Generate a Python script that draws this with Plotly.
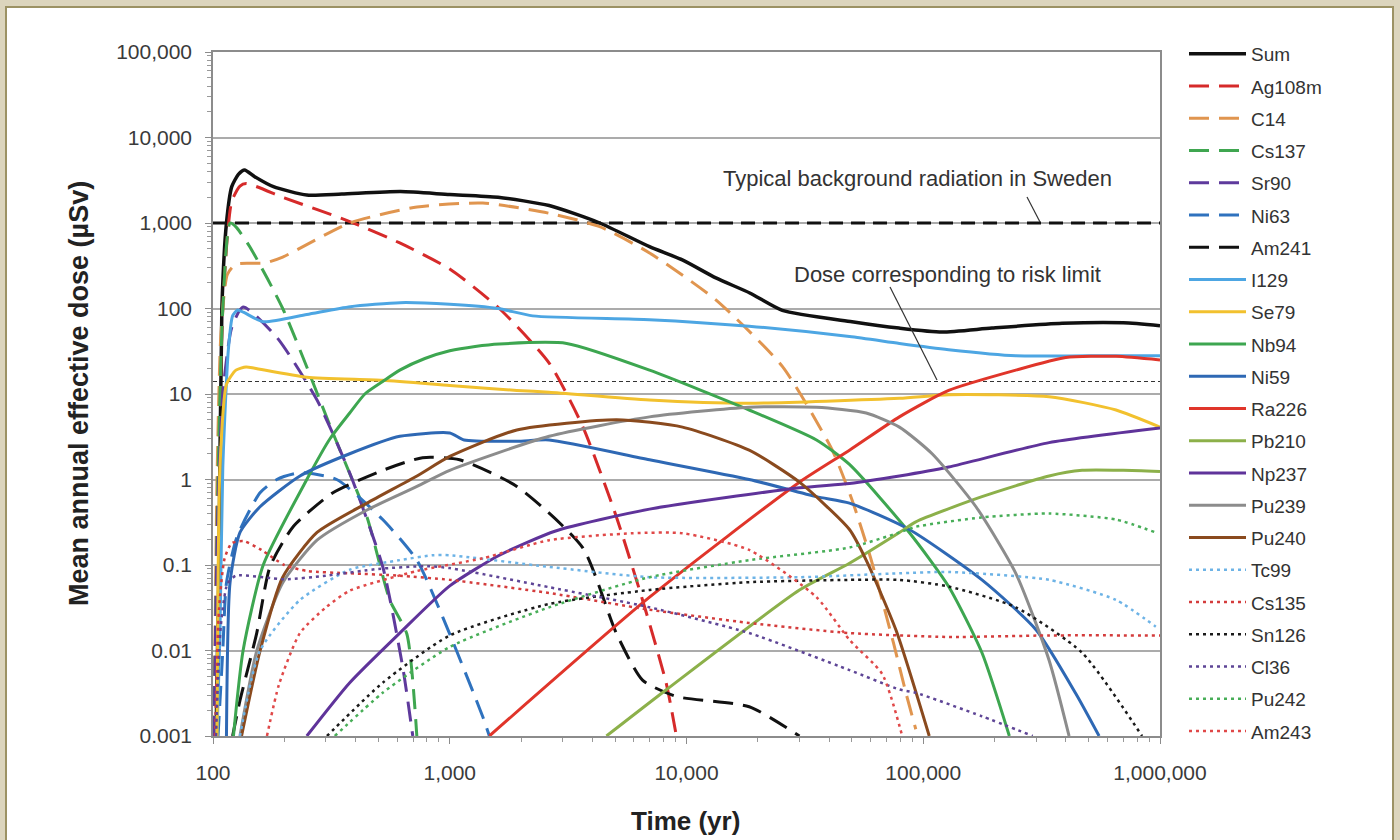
import plotly.graph_objects as go

# ---------------- data ----------------
sum_t = [103, 106, 109, 114, 120, 128, 136, 150, 180, 249, 350, 620, 1000, 1600, 2630, 4300, 6980, 9600, 13300, 18500, 25400, 50000, 79000, 120000, 195000, 386000, 700000, 1000000]
sum_v = [0.001, 0.1, 100, 1000, 2660, 3700, 4170, 3480, 2660, 2120, 2180, 2330, 2150, 2000, 1600, 1000, 528, 370, 228, 152, 95, 70, 59, 53, 59, 67, 68, 63]

ag108m_t = [101, 105, 110, 115, 120, 130, 138, 200, 378, 615, 1000, 1620, 2630, 3640, 5050, 6520, 8200, 9060]
ag108m_v = [0.001, 1, 100, 700, 1800, 2700, 2900, 1970, 1040, 584, 290, 100, 23, 4.2, 0.37, 0.039, 0.0042, 0.001]

c14_t = [101, 104, 108, 115, 125, 165, 197, 378, 727, 1380, 2630, 4300, 6980, 13300, 25400, 41300, 50000, 60000, 75000, 85000, 93000]
c14_v = [0.001, 1, 50, 250, 330, 340, 400, 1000, 1540, 1710, 1300, 906, 446, 126, 21, 2.2, 0.58, 0.12, 0.012, 0.003, 0.0012]

cs137_t = [101, 105, 110, 118, 125, 143, 197, 321, 447, 558, 659, 726]
cs137_v = [0.001, 1, 100, 1000, 900, 528, 100, 3.5, 0.364, 0.039, 0.0156, 0.001]

sr90_t = [101, 105, 110, 120, 134, 186, 275, 378, 521, 633, 698]
sr90_v = [0.001, 0.5, 10, 60, 104, 46, 8.5, 1.19, 0.096, 0.0064, 0.001]

ni63_t = [105, 110, 114, 126, 158, 186, 233, 333, 521, 726, 934, 1380, 1470]
ni63_v = [0.001, 0.01, 0.062, 0.21, 0.7, 1.0, 1.2, 1.0, 0.34, 0.114, 0.0246, 0.00167, 0.001]

am241_t = [121, 130, 153, 174, 218, 321, 521, 767, 1100, 1920, 3640, 5050, 6520, 9060, 18400, 30000]
am241_v = [0.001, 0.0026, 0.016, 0.095, 0.28, 0.7, 1.28, 1.8, 1.7, 0.83, 0.16, 0.016, 0.0045, 0.0029, 0.0022, 0.001]

i129_t = [104, 107, 110, 116, 121, 127, 135, 163, 249, 380, 617, 1000, 1600, 2240, 6980, 18400, 48800, 79300, 128000, 246000, 500000, 1000000]
i129_v = [0.001, 0.016, 1.4, 32, 82, 96, 90, 70, 85, 105, 117, 112, 100, 82, 74, 62, 47, 39, 33, 28, 28, 28]

se79_t = [104, 107, 114, 125, 138, 150, 249, 521, 1000, 1920, 2630, 6980, 18400, 79300, 128000, 340000, 652000, 1000000]
se79_v = [0.001, 1.4, 13, 19, 20.7, 20, 15.7, 14.5, 12.6, 11, 10.5, 8.5, 7.8, 8.9, 9.8, 9.3, 6.5, 4.1]

nb94_t = [122, 134, 163, 249, 312, 378, 438, 521, 615, 785, 1000, 1280, 1620, 3120, 6980, 18400, 35400, 48800, 87300, 128000, 177000, 231000]
nb94_v = [0.001, 0.01, 0.1, 1, 3, 6, 10, 14, 19, 26, 32, 36, 38.5, 39, 19, 6.5, 2.9, 1.5, 0.24, 0.056, 0.0094, 0.001]

ni59_t = [114, 118, 130, 158, 233, 378, 615, 1000, 1150, 1920, 2630, 6980, 18400, 35400, 48800, 87300, 177000, 300000, 442000, 553000]
ni59_v = [0.001, 0.062, 0.24, 0.48, 1.1, 2.0, 3.2, 3.5, 2.9, 2.8, 2.9, 1.7, 1.0, 0.63, 0.53, 0.26, 0.067, 0.0174, 0.0031, 0.001]

ra226_t = [1470, 6980, 30000, 48800, 79300, 128000, 246000, 400000, 652000, 1000000]
ra226_v = [0.001, 0.042, 0.93, 2.2, 5.4, 11, 19, 26.7, 27.6, 25]

pb210_t = [4590, 8240, 30000, 48800, 79300, 93000, 177000, 340000, 469000, 700000, 1000000]
pb210_v = [0.001, 0.0035, 0.051, 0.105, 0.24, 0.32, 0.63, 1.1, 1.28, 1.28, 1.24]

np237_t = [249, 378, 615, 1000, 1620, 2800, 6980, 30000, 48800, 79300, 128000, 340000, 1000000]
np237_v = [0.001, 0.0042, 0.016, 0.057, 0.13, 0.25, 0.45, 0.8, 0.9, 1.1, 1.4, 2.7, 4.0]

pu239_t = [130, 153, 197, 275, 447, 727, 1000, 2630, 6980, 18400, 35400, 57400, 79300, 109000, 167000, 246000, 340000, 413000]
pu239_v = [0.001, 0.0099, 0.062, 0.195, 0.44, 0.83, 1.28, 3.2, 5.4, 7.0, 7.0, 6.0, 4.1, 2.0, 0.48, 0.08, 0.0077, 0.001]

pu240_t = [132, 158, 197, 275, 447, 727, 1000, 1920, 5070, 9620, 18400, 30000, 48800, 57400, 76900, 106000]
pu240_v = [0.001, 0.0099, 0.072, 0.24, 0.53, 1.1, 1.86, 3.8, 5.0, 4.1, 2.2, 0.93, 0.26, 0.114, 0.017, 0.001]

tc99_t = [130, 158, 233, 378, 615, 847, 1000, 2630, 6980, 30000, 79300, 128000, 340000, 652000, 960000]
tc99_v = [0.001, 0.01, 0.039, 0.088, 0.114, 0.13, 0.13, 0.095, 0.072, 0.072, 0.08, 0.083, 0.067, 0.039, 0.019]

cs135_t = [102, 106, 112, 120, 135, 160, 200, 250, 378, 615, 1000, 2630, 6980, 18400, 48800, 128000, 340000, 1000000]
cs135_v = [0.001, 0.03, 0.12, 0.18, 0.19, 0.15, 0.1, 0.085, 0.08, 0.075, 0.067, 0.047, 0.03, 0.021, 0.016, 0.0144, 0.015, 0.015]

sn126_t = [303, 521, 1000, 2630, 6980, 18400, 48800, 79300, 128000, 246000, 469000, 840000]
sn126_v = [0.001, 0.0042, 0.015, 0.035, 0.051, 0.063, 0.067, 0.067, 0.056, 0.032, 0.0094, 0.001]

cl36_t = [103, 108, 115, 125, 200, 300, 500, 800, 1000, 2630, 6980, 18400, 48800, 79300, 93000, 177000, 290000]
cl36_v = [0.001, 0.02, 0.06, 0.075, 0.068, 0.075, 0.09, 0.097, 0.092, 0.055, 0.032, 0.016, 0.0059, 0.0035, 0.0032, 0.0017, 0.001]

pu242_t = [327, 521, 1000, 2630, 6980, 18400, 48800, 79300, 93000, 177000, 340000, 652000, 960000]
pu242_v = [0.001, 0.0032, 0.011, 0.032, 0.072, 0.114, 0.16, 0.24, 0.28, 0.36, 0.40, 0.34, 0.24]

am243_t = [169, 190, 233, 300, 378, 727, 1380, 2630, 5920, 9620, 18400, 35400, 48800, 67100, 81500]
am243_v = [0.001, 0.004, 0.016, 0.032, 0.05, 0.085, 0.12, 0.195, 0.235, 0.235, 0.15, 0.042, 0.0133, 0.0053, 0.001]

ref_t = [100, 1000000]
background_v = [1000, 1000]
risk_v = [14, 14]

y_tickvals = [0.001, 0.01, 0.1, 1, 10, 100, 1000, 10000, 100000]
y_ticktext = ["0.001", "0.01", "0.1", "1", "10", "100", "1,000", "10,000", "100,000"]
x_tickvals = [100, 1000, 10000, 100000, 1000000]
x_ticktext = ["100", "1,000", "10,000", "100,000", "1,000,000"]

# ---------------- styles ----------------
DASH = "20px,10px"
DOT = "3px,4px"
series = [
    ("Sum", sum_t, sum_v, "#111111", "solid", 3.5),
    ("Ag108m", ag108m_t, ag108m_v, "#D62A2A", DASH, 3),
    ("C14", c14_t, c14_v, "#E0954F", DASH, 3),
    ("Cs137", cs137_t, cs137_v, "#3FA650", DASH, 3),
    ("Sr90", sr90_t, sr90_v, "#5E3A9C", DASH, 3),
    ("Ni63", ni63_t, ni63_v, "#2F72BE", DASH, 3),
    ("Am241", am241_t, am241_v, "#111111", DASH, 3),
    ("I129", i129_t, i129_v, "#4DA6E3", "solid", 3),
    ("Se79", se79_t, se79_v, "#F2C12E", "solid", 3),
    ("Nb94", nb94_t, nb94_v, "#3DA650", "solid", 3),
    ("Ni59", ni59_t, ni59_v, "#2E68B4", "solid", 3),
    ("Ra226", ra226_t, ra226_v, "#E0352A", "solid", 3),
    ("Pb210", pb210_t, pb210_v, "#8CB04A", "solid", 3),
    ("Np237", np237_t, np237_v, "#5F339A", "solid", 3),
    ("Pu239", pu239_t, pu239_v, "#8C8C8C", "solid", 3),
    ("Pu240", pu240_t, pu240_v, "#8A4A1E", "solid", 3),
    ("Tc99", tc99_t, tc99_v, "#6DB3E6", DOT, 2.5),
    ("Cs135", cs135_t, cs135_v, "#D43C3C", DOT, 2.5),
    ("Sn126", sn126_t, sn126_v, "#1A1A1A", DOT, 2.5),
    ("Cl36", cl36_t, cl36_v, "#5E4596", DOT, 2.5),
    ("Pu242", pu242_t, pu242_v, "#48AE58", DOT, 2.5),
    ("Am243", am243_t, am243_v, "#E04848", DOT, 2.5),
]

FONT = "Liberation Sans, Arial, sans-serif"
fig = go.Figure()

# reference lines
fig.add_trace(go.Scatter(x=ref_t, y=background_v, mode="lines", showlegend=False,
                         line=dict(color="#111111", width=3, dash="14px,8px"), hoverinfo="skip"))
fig.add_trace(go.Scatter(x=ref_t, y=risk_v, mode="lines", showlegend=False,
                         line=dict(color="#333333", width=1.2, dash="4px,3px"), hoverinfo="skip"))

for i, (name, t, v, col, dash, w) in enumerate(series):
    fig.add_trace(go.Scatter(
        x=t, y=v, name=name, mode="lines", legendgroup=f"g{i}",
        line=dict(color=col, width=w, dash=dash, shape="spline", smoothing=0.6),
    ))

W, H = 1400, 840
L, R, T, B = 213, 240, 52, 104
pw, ph = W - L - R, H - T - B

def px(xp):
    return (xp - L) / pw

def py(yp):
    return (H - B - yp) / ph

shapes = [
    dict(type="rect", xref="paper", yref="paper", x0=px(6), x1=px(1393), y0=py(850), y1=py(7),
         fillcolor="white", line=dict(color="#9C9264", width=2), layer="below"),
    dict(type="line", xref="paper", yref="paper", x0=px(1027), y0=py(197), x1=px(1040), y1=py(222),
         line=dict(color="#333333", width=1.2)),
    dict(type="line", xref="paper", yref="paper", x0=px(890), y0=py(287), x1=px(937), y1=py(380),
         line=dict(color="#333333", width=1.2)),
]

annotations = [
    dict(text="Typical background radiation in Sweden", xref="paper", yref="paper",
         x=px(917), y=py(178), xanchor="center", yanchor="middle", showarrow=False,
         font=dict(family=FONT, size=22, color="#333333")),
    dict(text="Dose corresponding to risk limit", xref="paper", yref="paper",
         x=px(947), y=py(274), xanchor="center", yanchor="middle", showarrow=False,
         font=dict(family=FONT, size=22, color="#333333")),
    dict(text="<b>Mean annual effective dose (µSv)</b>", xref="paper", yref="paper",
         x=px(79), y=py(394), xanchor="center", yanchor="middle", textangle=-90, showarrow=False,
         font=dict(family=FONT, size=27, color="#222222")),
    dict(text="<b>Time (yr)</b>", xref="paper", yref="paper",
         x=px(685), y=py(821), xanchor="center", yanchor="middle", showarrow=False,
         font=dict(family=FONT, size=26, color="#222222")),
]

fig.update_layout(
    width=W, height=H,
    margin=dict(l=L, r=R, t=T, b=B, autoexpand=False),
    paper_bgcolor="#DCD5BD",
    plot_bgcolor="white",
    font=dict(family=FONT, color="#333333"),
    shapes=shapes,
    annotations=annotations,
    showlegend=True,
    legend=dict(x=px(1184), y=py(35), xanchor="left", yanchor="top",
                font=dict(family=FONT, size=19, color="#333333"),
                bgcolor="rgba(0,0,0,0)", tracegroupgap=4.55, itemwidth=57,
                traceorder="grouped", maxheight=1),
)
fig.update_xaxes(
    type="log", range=[2, 6], showgrid=False, zeroline=False,
    showline=True, linecolor="#8C8C8C", linewidth=1.5, mirror=True,
    tickmode="array", tickvals=x_tickvals, ticktext=x_ticktext,
    ticks="outside", ticklen=6, tickcolor="#8C8C8C", ticklabelstandoff=11,
    tickfont=dict(family=FONT, size=21, color="#3A3A3A"),
    minor=dict(ticks="outside", ticklen=4, tickcolor="#999999", dtick="D1", showgrid=False),
)
fig.update_yaxes(
    type="log", range=[-3, 5], showgrid=True, gridcolor="#ABABAB", gridwidth=1.5, zeroline=False,
    showline=True, linecolor="#8C8C8C", linewidth=1.5, mirror=True,
    tickmode="array", tickvals=y_tickvals, ticktext=y_ticktext,
    ticks="outside", ticklen=6, tickcolor="#8C8C8C", ticklabelstandoff=9,
    tickfont=dict(family=FONT, size=21, color="#3A3A3A"),
    minor=dict(ticks="outside", ticklen=4, tickcolor="#999999", dtick="D1", showgrid=False),
)

fig.write_html("out.html", config={"displayModeBar": False},
               post_script="document.body.style.margin='0';document.body.style.overflow='hidden';")
